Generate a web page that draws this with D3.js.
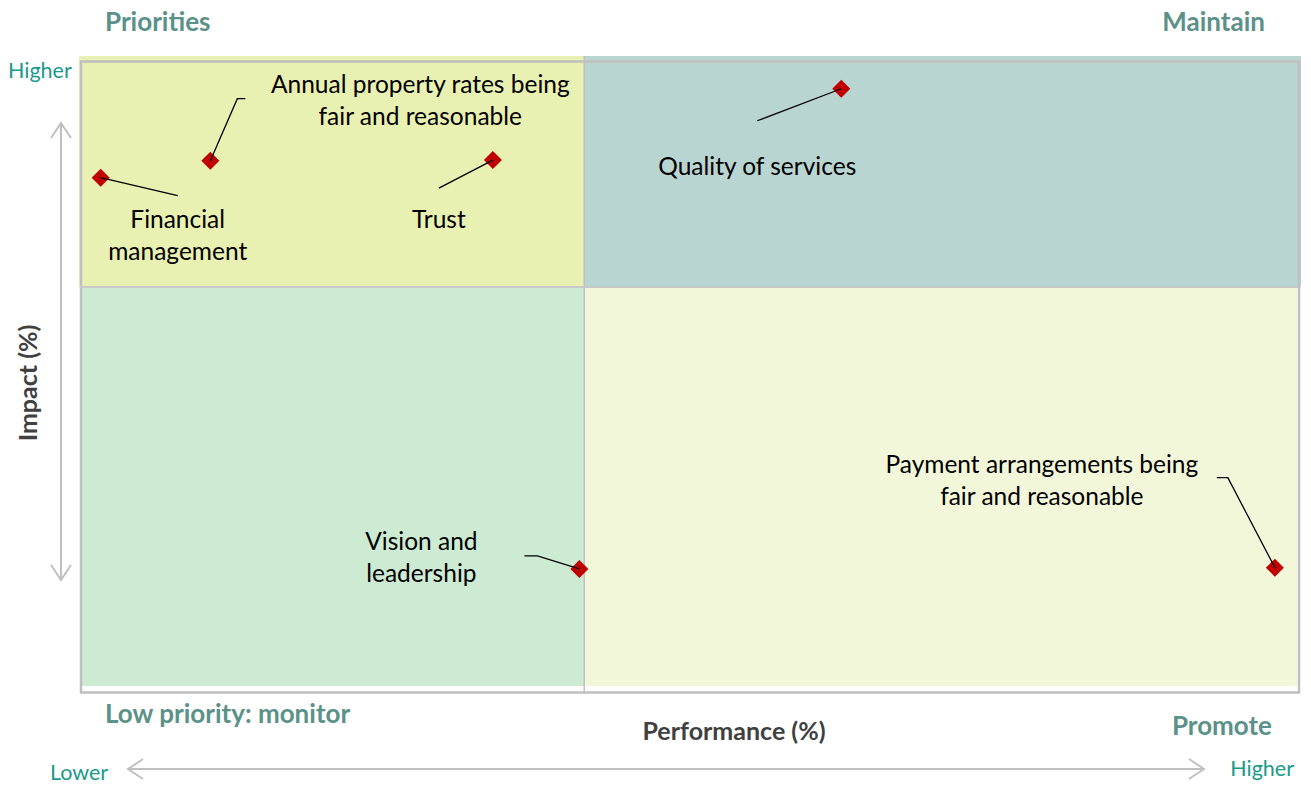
<!DOCTYPE html>
<html>
<head>
<meta charset="utf-8">
<script src="https://cdn.jsdelivr.net/npm/d3@7"></script>
<style>
  body { margin: 0; background: #fff; }
  svg { display: block; font-family: Lato, "Open Sans", sans-serif; }
</style>
</head>
<body>
<div id="chart"></div>
<script>
// factors and their scores (percent)
const factors = ['Financial management', 'Annual property rates being fair and reasonable', 'Trust',
    'Quality of services', 'Vision and leadership', 'Payment arrangements being fair and reasonable'];
const performance = [1.7, 10.7, 33.9, 62.5, 41.0, 98.1];
const impact = [81.5, 84.2, 84.3, 95.6, 19.5, 19.7];
const labelLines = [
    ['Financial', 'management'],
    ['Annual property rates being', 'fair and reasonable'],
    ['Trust'],
    ['Quality of services'],
    ['Vision and', 'leadership'],
    ['Payment arrangements being', 'fair and reasonable']
];
// where the quadrants split
const performanceCut = 41.4;
const impactCut = 64.2;
const quadrantNames = ['Priorities', 'Maintain', 'Low priority: monitor', 'Promote'];

const width = 1311, height = 785;
const plot = {left: 80, right: 1298, top: 61, bottom: 692};

const svg = d3.select('#chart').append('svg')
    .attr('width', width)
    .attr('height', height);

const x = d3.scaleLinear().domain([0, 100]).range([plot.left, plot.right]);
const y = d3.scaleLinear().domain([0, 100]).range([plot.bottom, plot.top]);

// quadrant fills
const quads = [
    {x0: plot.left - 1, x1: x(performanceCut), y0: plot.top - 5, y1: y(impactCut), fill: '#e8f0b2'},
    {x0: x(performanceCut), x1: plot.right + 3, y0: plot.top - 5, y1: y(impactCut), fill: '#b9d5d2'},
    {x0: plot.left + 2, x1: x(performanceCut), y0: y(impactCut), y1: plot.bottom - 6, fill: '#cdebd3'},
    {x0: x(performanceCut), x1: plot.right - 1, y0: y(impactCut), y1: plot.bottom - 6, fill: '#f2f7da'}
];
svg.selectAll('rect.quad')
    .data(quads)
    .enter().append('rect')
    .attr('class', 'quad')
    .attr('x', (d) => d.x0)
    .attr('y', (d) => d.y0)
    .attr('width', (d) => d.x1 - d.x0)
    .attr('height', (d) => d.y1 - d.y0)
    .attr('fill', (d) => d.fill);

// frame
svg.append('rect')
    .attr('x', plot.left + 1)
    .attr('y', plot.top + 0.5)
    .attr('width', plot.right - plot.left)
    .attr('height', plot.bottom - plot.top)
    .attr('fill', 'none')
    .attr('stroke', '#bfbfbf')
    .attr('stroke-width', 2.5);

// dividers
svg.append('line')
    .attr('x1', x(performanceCut)).attr('x2', x(performanceCut))
    .attr('y1', plot.top - 5).attr('y2', plot.bottom)
    .attr('stroke', '#c0c0c0').attr('stroke-width', 1.5);
svg.append('line')
    .attr('x1', plot.left).attr('x2', plot.right)
    .attr('y1', y(impactCut)).attr('y2', y(impactCut))
    .attr('stroke', '#c8c8c8').attr('stroke-width', 2);

// arrows
const arrowColor = '#c0c0c0';
const arrows = svg.append('g')
    .attr('fill', 'none')
    .attr('stroke', arrowColor)
    .attr('stroke-width', 2);
arrows.append('line').attr('x1', 61).attr('x2', 61).attr('y1', 123).attr('y2', 580);
arrows.append('path').attr('d', 'M51,138 L61,123 L71,138');
arrows.append('path').attr('d', 'M51,565 L61,580 L71,565');
arrows.append('line').attr('x1', 128).attr('x2', 1204).attr('y1', 769).attr('y2', 769);
arrows.append('path').attr('d', 'M143,759 L128,769 L143,779');
arrows.append('path').attr('d', 'M1189,759 L1204,769 L1189,779');

// corner titles
const cornerColor = '#5b9189';
const corners = [
    {t: quadrantNames[0], x: 105, y: 21, a: 'start'},
    {t: quadrantNames[1], x: 1265, y: 21, a: 'end'},
    {t: quadrantNames[2], x: 105, y: 713, a: 'start'},
    {t: quadrantNames[3], x: 1272, y: 725, a: 'end'}
];
svg.selectAll('text.corner')
    .data(corners)
    .enter().append('text')
    .attr('class', 'corner')
    .attr('x', (d) => d.x)
    .attr('y', (d) => d.y)
    .attr('text-anchor', (d) => d.a)
    .attr('dominant-baseline', 'central')
    .attr('font-size', 26)
    .attr('font-weight', 'bold')
    .attr('fill', cornerColor)
    .text((d) => d.t);

// higher / lower
const endColor = '#1a9a88';
const ends = [
    {t: 'Higher', x: 8, y: 70, a: 'start'},
    {t: 'Lower', x: 50, y: 772, a: 'start'},
    {t: 'Higher', x: 1294, y: 768, a: 'end'}
];
svg.selectAll('text.end')
    .data(ends)
    .enter().append('text')
    .attr('class', 'end')
    .attr('x', (d) => d.x)
    .attr('y', (d) => d.y)
    .attr('text-anchor', (d) => d.a)
    .attr('dominant-baseline', 'central')
    .attr('font-size', 21.5)
    .attr('fill', endColor)
    .text((d) => d.t);

// axis titles
svg.append('text')
    .attr('x', 734).attr('y', 730)
    .attr('text-anchor', 'middle')
    .attr('dominant-baseline', 'central')
    .attr('font-size', 25)
    .attr('font-weight', 'bold')
    .attr('fill', '#404040')
    .text('Performance (%)');
svg.append('text')
    .attr('transform', 'translate(27,383) rotate(-90)')
    .attr('text-anchor', 'middle')
    .attr('dominant-baseline', 'central')
    .attr('font-size', 25)
    .attr('font-weight', 'bold')
    .attr('fill', '#404040')
    .text('Impact (%)');

// label placement relative to the point: centre of label and leader line bends
const labelLayout = [
    {dx: 77, dy: 41, leader: [[0, 0], [77, 18]]},
    {dx: 210, dy: -77, leader: [[0, 0], [27, -62], [35, -62]]},
    {dx: -54, dy: 58, leader: [[0, 0], [-54, 28]]},
    {dx: -84, dy: 77, leader: [[0, 0], [-84, 32]]},
    {dx: -158, dy: -28, leader: [[0, 0], [-42, -13], [-55, -13]]},
    {dx: -233, dy: -104, leader: [[0, 0], [-47, -90], [-58, -90]]}
];
const lineHeight = 32;

const points = factors.map((name, i) => ({
    name: name,
    px: x(performance[i]),
    py: y(impact[i]),
    lines: labelLines[i],
    layout: labelLayout[i]
}));

// leader lines
svg.selectAll('path.leader')
    .data(points)
    .enter().append('path')
    .attr('class', 'leader')
    .attr('fill', 'none')
    .attr('stroke', '#000')
    .attr('stroke-width', 1.3)
    .attr('d', (d) => d3.line()(d.layout.leader.map((p) => [d.px + p[0], d.py + p[1]])));

// markers
svg.selectAll('path.marker')
    .data(points)
    .enter().append('path')
    .attr('class', 'marker')
    .attr('transform', (d) => `translate(${d.px},${d.py})`)
    .attr('d', 'M0,-9 L9,0 L0,9 L-9,0 Z')
    .attr('fill', '#c00000');

// leader ends drawn over the markers
svg.selectAll('line.stub')
    .data(points)
    .enter().append('line')
    .attr('class', 'stub')
    .attr('stroke', '#000')
    .attr('stroke-width', 1.3)
    .attr('x1', (d) => d.px)
    .attr('y1', (d) => d.py)
    .attr('x2', (d) => {
        const p = d.layout.leader[1];
        return d.px + p[0] / Math.hypot(p[0], p[1]) * 7;
    })
    .attr('y2', (d) => {
        const p = d.layout.leader[1];
        return d.py + p[1] / Math.hypot(p[0], p[1]) * 7;
    });

// labels
const labels = svg.selectAll('text.label')
    .data(points)
    .enter().append('text')
    .attr('class', 'label')
    .attr('text-anchor', 'middle')
    .attr('font-size', 24.5)
    .attr('fill', '#000');
labels.selectAll('tspan')
    .data((d) => d.lines.map((t, k) => ({t: t, k: k, d: d})))
    .enter().append('tspan')
    .attr('x', (e) => e.d.px + e.d.layout.dx)
    .attr('y', (e) => e.d.py + e.d.layout.dy + e.k * lineHeight)
    .attr('dominant-baseline', 'central')
    .text((e) => e.t);
</script>
</body>
</html>
